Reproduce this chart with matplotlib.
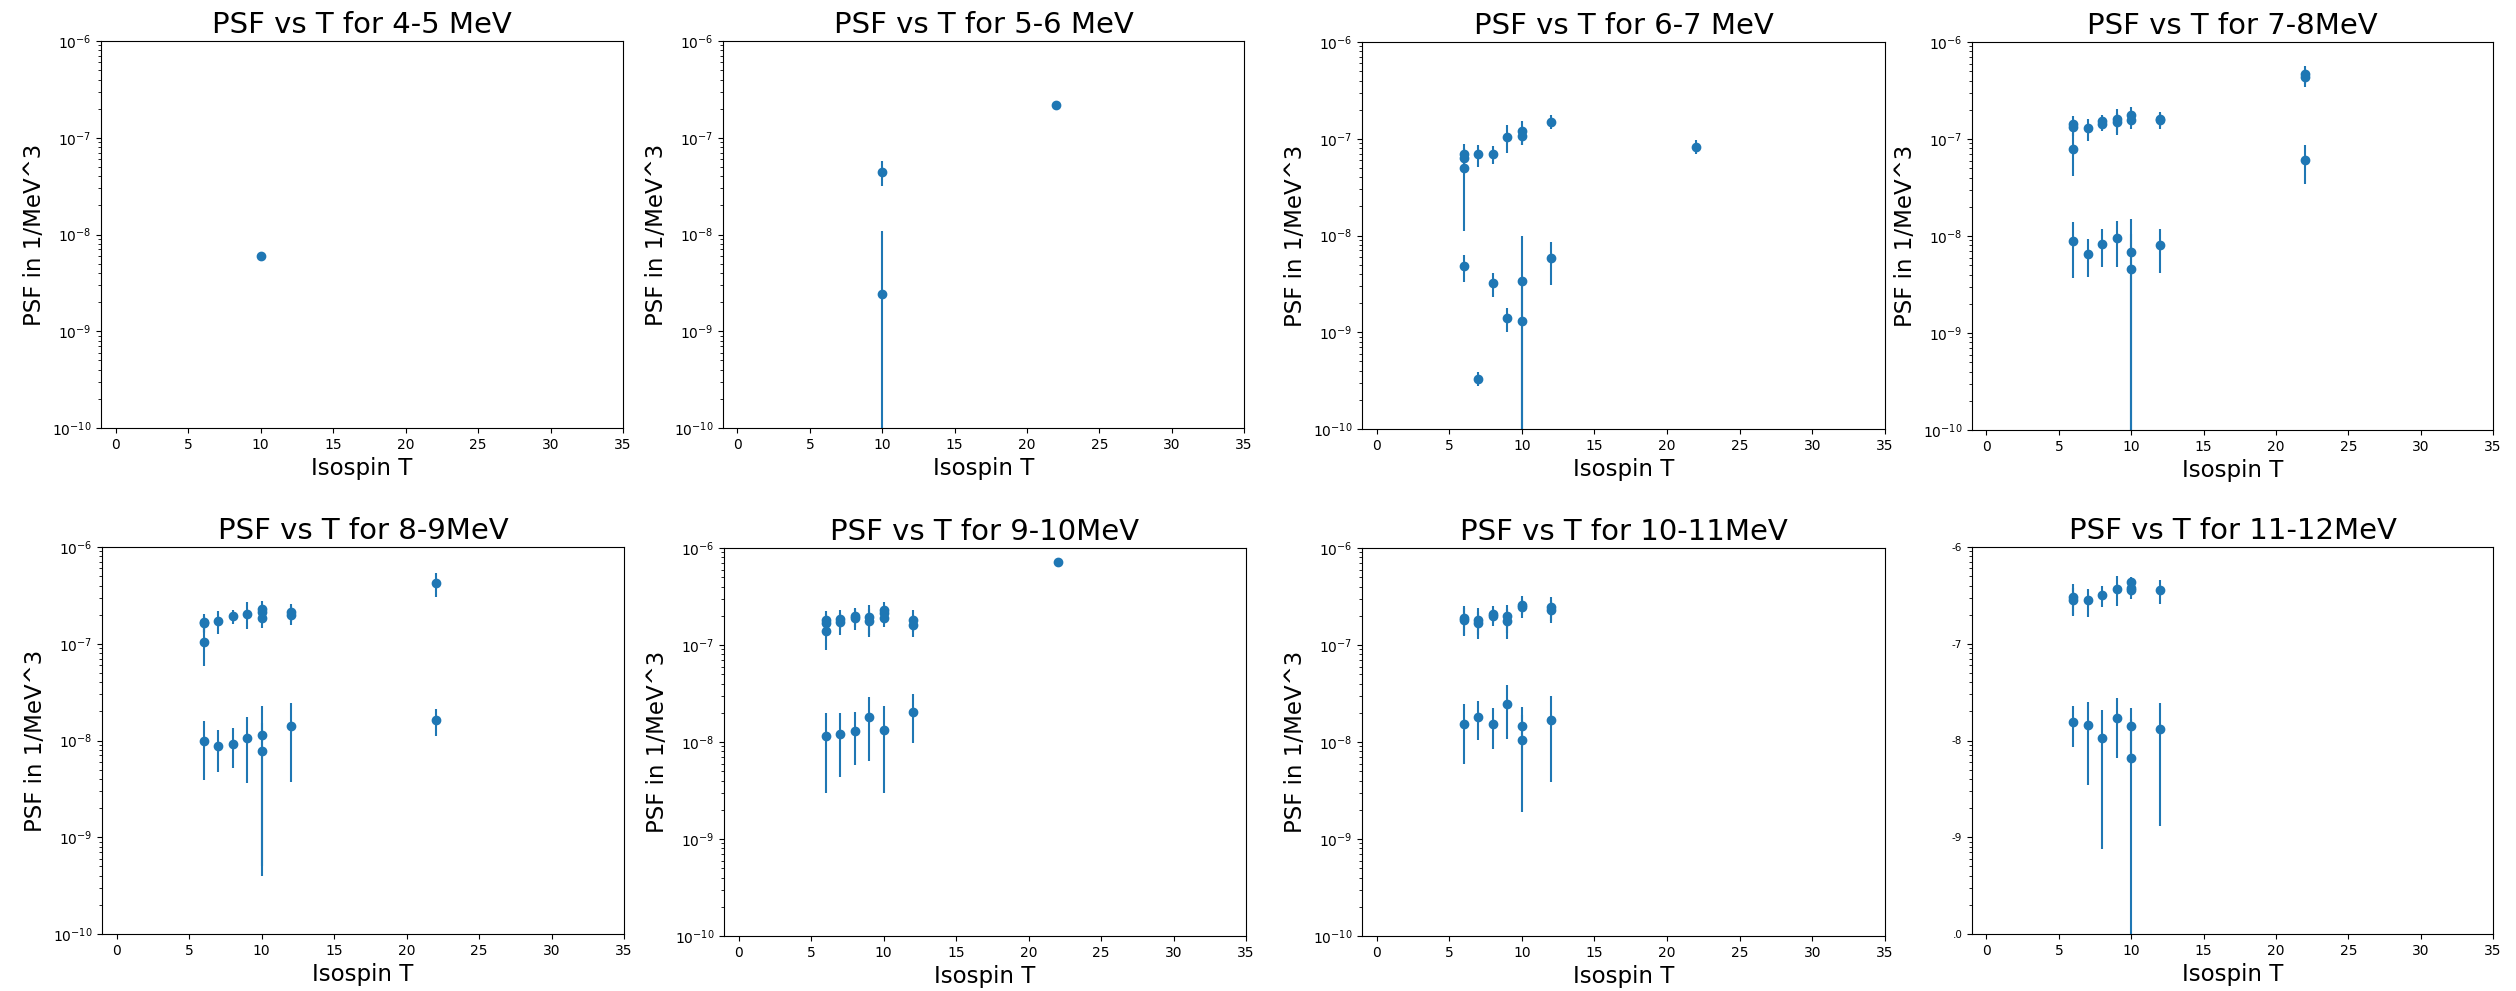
import numpy as np
import matplotlib
matplotlib.use('Agg')
import matplotlib.pyplot as plt

################################################################################
# PSF values (1/MeV^3) vs isospin T, one block per energy bin

titles = ['PSF vs T for 4-5 MeV', 'PSF vs T for 5-6 MeV', 'PSF vs T for 6-7 MeV',
          'PSF vs T for 7-8MeV', 'PSF vs T for 8-9MeV', 'PSF vs T for 9-10MeV',
          'PSF vs T for 10-11MeV', 'PSF vs T for 11-12MeV']

t_45   = [10]
psf_45 = [6.0e-9]
err_45 = [3e-10]

t_56   = [10, 10, 22]
psf_56 = [4.45e-8, 2.4e-9, 2.19e-7]
err_56 = [1.3e-8, 8.5e-9, 8e-9]

t_67   = [6, 6, 6, 6, 7, 7, 8, 8, 9, 9, 10, 10, 10, 10, 12, 12, 22]
psf_67 = [6.9e-8, 6.4e-8, 5.0e-8, 4.8e-9, 6.9e-8, 3.3e-10, 7.0e-8, 3.2e-9,
          1.05e-7, 1.4e-9, 1.2e-7, 1.07e-7, 3.4e-9, 1.3e-9, 1.5e-7, 5.8e-9, 8.3e-8]
err_67 = [1.2e-8, 1.0e-8, 3.9e-8, 1.5e-9, 1.8e-8, 5.5e-11, 1.5e-8, 0.9e-9,
          3.3e-8, 0.4e-9, 3.3e-8, 2.0e-8, 6.6e-9, 2.0e-9, 2.5e-8, 2.7e-9, 1.4e-8]

t_78   = [6, 6, 6, 6, 7, 7, 8, 8, 8, 9, 9, 9, 10, 10, 10, 10, 12, 12, 12, 22, 22, 22]
psf_78 = [1.44e-7, 1.32e-7, 7.8e-8, 8.9e-9, 1.29e-7, 6.55e-9, 1.52e-7, 1.43e-7, 8.24e-9,
          1.6e-7, 1.48e-7, 9.57e-9, 1.78e-7, 1.58e-7, 6.9e-9, 4.6e-9,
          1.62e-7, 1.56e-7, 8.0e-9, 4.71e-7, 4.32e-7, 6.06e-8]
err_78 = [2.7e-8, 2.5e-8, 3.6e-8, 5.2e-9, 3.3e-8, 2.8e-9, 2.5e-8, 2.2e-8, 3.5e-9,
          4.5e-8, 3.8e-8, 4.8e-9, 3.5e-8, 3.0e-8, 8.0e-9, 6.0e-9,
          3.0e-8, 2.8e-8, 3.8e-9, 1.0e-7, 9.0e-8, 2.6e-8]

t_89   = [6, 6, 6, 6, 7, 7, 8, 8, 9, 9, 10, 10, 10, 10, 10, 12, 12, 12, 22, 22]
psf_89 = [1.68e-7, 1.62e-7, 1.05e-7, 9.9e-9, 1.72e-7, 8.7e-9, 1.92e-7, 9.3e-9,
          2.05e-7, 1.06e-8, 2.31e-7, 2.13e-7, 1.86e-7, 1.15e-8, 7.8e-9,
          2.13e-7, 2.0e-7, 1.42e-8, 4.25e-7, 1.62e-8]
err_89 = [3.7e-8, 3.3e-8, 4.6e-8, 6.0e-9, 4.5e-8, 4.0e-9, 3.3e-8, 4.1e-9,
          6.3e-8, 7.0e-9, 4.4e-8, 4.0e-8, 4.0e-8, 1.1e-8, 7.4e-9,
          4.7e-8, 4.5e-8, 1.05e-8, 1.2e-7, 5.2e-9]

t_910   = [6, 6, 6, 6, 7, 7, 7, 8, 8, 8, 9, 9, 9, 10, 10, 10, 10, 12, 12, 12, 22]
psf_910 = [1.82e-7, 1.68e-7, 1.38e-7, 1.14e-8, 1.87e-7, 1.72e-7, 1.21e-8,
           1.97e-7, 1.9e-7, 1.31e-8, 1.94e-7, 1.78e-7, 1.79e-8,
           2.31e-7, 2.13e-7, 1.9e-7, 1.33e-8, 1.82e-7, 1.62e-7, 2.06e-8, 7.23e-7]
err_910 = [4.4e-8, 4.0e-8, 4.9e-8, 8.4e-9, 4.4e-8, 4.4e-8, 7.7e-9,
           4.3e-8, 4.6e-8, 7.3e-9, 6.6e-8, 5.8e-8, 1.15e-8,
           4.4e-8, 4.2e-8, 3.8e-8, 1.03e-8, 4.5e-8, 4.0e-8, 1.08e-8, 4e-8]

t_1011   = [6, 6, 6, 7, 7, 7, 8, 8, 8, 9, 9, 9, 10, 10, 10, 10, 12, 12, 12]
psf_1011 = [1.9e-7, 1.82e-7, 1.54e-8, 1.82e-7, 1.68e-7, 1.83e-8, 2.1e-7, 1.97e-7, 1.54e-8,
            1.97e-7, 1.75e-7, 2.48e-8, 2.6e-7, 2.46e-7, 1.47e-8, 1.05e-8,
            2.46e-7, 2.31e-7, 1.67e-8]
err_1011 = [6.4e-8, 5.8e-8, 9.4e-9, 5.6e-8, 5.2e-8, 7.9e-9, 4.2e-8, 4.0e-8, 6.9e-9,
            6.3e-8, 6.0e-8, 1.4e-8, 5.7e-8, 5.5e-8, 8.2e-9, 8.6e-9,
            7.0e-8, 6.3e-8, 1.28e-8]

t_1112   = [6, 6, 6, 7, 7, 8, 8, 9, 9, 10, 10, 10, 10, 10, 12, 12]
psf_1112 = [3.05e-7, 2.86e-7, 1.56e-8, 2.81e-7, 1.43e-8, 3.17e-7, 1.065e-8,
            3.71e-7, 1.69e-8, 4.35e-7, 3.8e-7, 3.57e-7, 1.41e-8, 6.6e-9,
            3.57e-7, 1.3e-8]
err_1112 = [1.1e-7, 9.0e-8, 7.0e-9, 9.0e-8, 1.08e-8, 7.5e-8, 9.9e-9,
            1.27e-7, 1.03e-8, 6.0e-8, 6.5e-8, 6.5e-8, 7.8e-9, 1.0e-8,
            1.0e-7, 1.17e-8]

all_t   = [t_45, t_56, t_67, t_78, t_89, t_910, t_1011, t_1112]
all_psf = [psf_45, psf_56, psf_67, psf_78, psf_89, psf_910, psf_1011, psf_1112]
all_err = [err_45, err_56, err_67, err_78, err_89, err_910, err_1011, err_1112]

################################################################################
# axes boxes in pixels (left, right, top, bottom) -- panels were pasted together
W, H = 2516, 991
boxes = [(101, 623, 41, 428), (723, 1244, 41, 428), (1362, 1885, 42, 429), (1972, 2493, 42, 430),
         (102, 624, 547, 934), (724, 1246, 548, 936), (1362, 1885, 548, 936), (1972, 2493, 547, 934)]

fig = plt.figure(figsize=(W/100., H/100.), dpi=100)

for i in range(8):
    l, r, t, b = boxes[i]
    ax = fig.add_axes([l/W, 1-b/H, (r-l)/W, (b-t)/H])
    ax.errorbar(all_t[i], all_psf[i], yerr=all_err[i], fmt='o', color='C0')
    ax.set_yscale('log')
    ax.set_ylim(1e-10, 1e-6)
    ax.set_xlim(-1, 35)
    ax.set_title(titles[i], fontsize=21)
    ax.set_xlabel('Isospin T', fontsize=16.5)
    ax.tick_params(labelsize=10)
    if i < 7:
        ax.set_ylabel('PSF in 1/MeV^3', fontsize=16.5)
    else:
        # last panel was cropped in the original, only tails of the labels show
        ax.set_yticks([1e-6, 1e-7, 1e-8, 1e-9, 1e-10])
        ax.set_yticklabels(['-6', '-7', '-8', '-9', '.0'], fontsize=7.5)

plt.savefig('out.png', dpi=100)
